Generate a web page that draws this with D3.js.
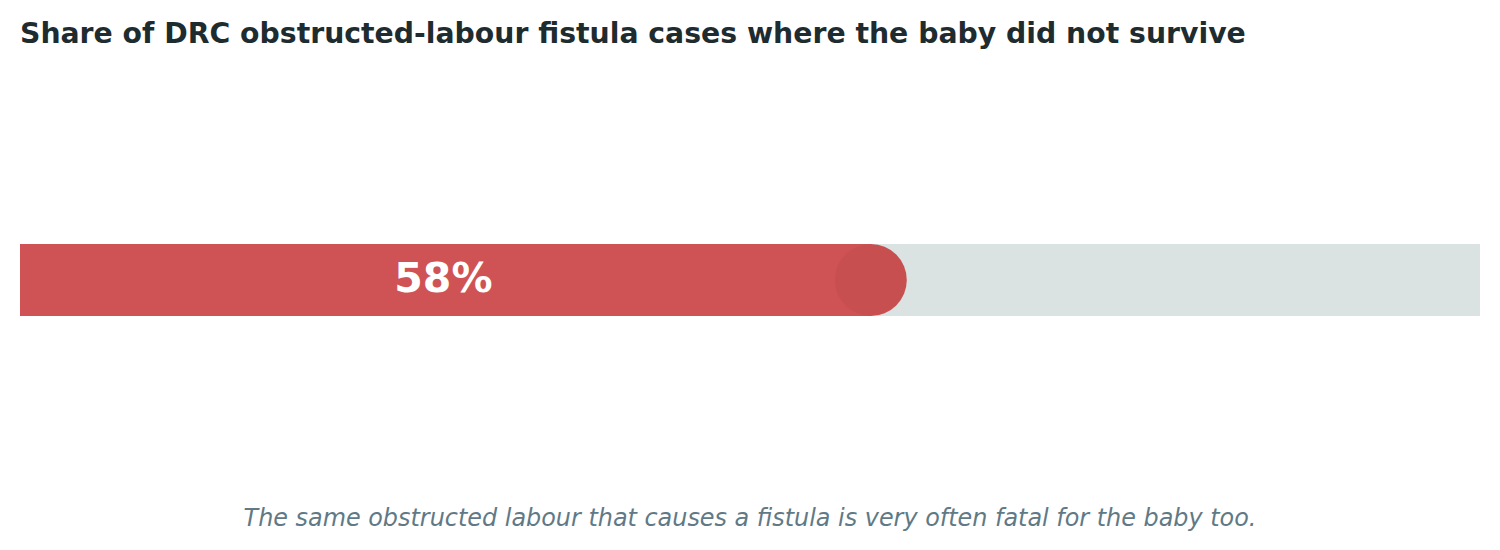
<!DOCTYPE html>
<html>
<head>
<meta charset="utf-8">
<script src="https://cdn.jsdelivr.net/npm/d3@7"></script>
<style>
  html, body { margin: 0; padding: 0; background: #ffffff; }
  svg { display: block; }
  text { font-family: "DejaVu Sans", sans-serif; }
</style>
</head>
<body>
<svg id="chart" width="1500" height="550"></svg>
<script>
const title = "Share of DRC obstructed-labour fistula cases where the baby did not survive";
const subtitle = "The same obstructed labour that causes a fistula is very often fatal for the baby too.";
const categories = ["Baby did not survive"];
const values = [58];
const domainMax = [100];

const W = 1500, H = 550;
const margin = { left: 20, right: 20 };
const svg = d3.select("#chart");

const x = d3.scaleLinear().domain([0, domainMax[0]]).range([margin.left, W - margin.right]);
const y = d3.scaleBand().domain(categories).range([244, 316]).padding(0);
const bh = y.bandwidth();

svg.append("text")
  .attr("x", 20).attr("y", 43)
  .attr("font-size", 28.3).attr("font-weight", "bold")
  .attr("fill", "#1e2b2f")
  .text(title);

// track
svg.selectAll("rect.track").data(categories).enter().append("rect")
  .attr("class", "track")
  .attr("x", x(0)).attr("y", d => y(d))
  .attr("width", x(domainMax[0]) - x(0)).attr("height", bh)
  .attr("fill", "#dae3e2");

// bar
svg.selectAll("rect.bar").data(values).enter().append("rect")
  .attr("class", "bar")
  .attr("x", x(0)).attr("y", (d, i) => y(categories[i]))
  .attr("width", d => x(d) - x(0) + 4).attr("height", bh)
  .attr("fill", "#cf5355");

// end cap
svg.selectAll("circle.cap").data(values).enter().append("circle")
  .attr("class", "cap")
  .attr("cx", d => x(d) + 4).attr("cy", (d, i) => y(categories[i]) + bh / 2)
  .attr("r", bh / 2)
  .attr("fill", "#c84f50");

// label
svg.selectAll("text.val").data(values).enter().append("text")
  .attr("class", "val")
  .attr("x", d => (x(0) + x(d)) / 2).attr("y", (d, i) => y(categories[i]) + bh / 2)
  .attr("dy", "0.3em")
  .attr("text-anchor", "middle")
  .attr("font-size", 41).attr("font-weight", "bold")
  .attr("fill", "#ffffff")
  .text(d => d + "%");

svg.append("text")
  .attr("x", W / 2).attr("y", 526)
  .attr("text-anchor", "middle")
  .attr("font-size", 23.9).attr("font-style", "italic")
  .attr("fill", "#5f7a86")
  .text(subtitle);
</script>
</body>
</html>
